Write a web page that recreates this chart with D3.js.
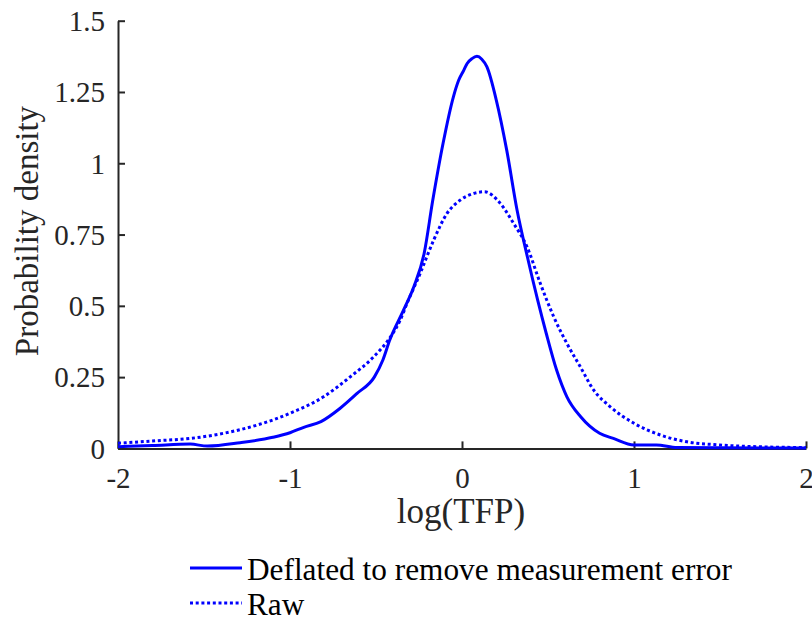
<!DOCTYPE html>
<html>
<head>
<meta charset="utf-8">
<script src="https://cdn.jsdelivr.net/npm/d3@7"></script>
<style>
  body { margin: 0; background: #fff; }
  text { font-family: "Liberation Serif", "Times New Roman", serif; }
</style>
</head>
<body>
<svg width="812" height="621"></svg>
<script>
// density estimates
var deflatedX = [-2, -1.8, -1.58, -1.48, -1.29, -1.1, -1, -0.92, -0.82, -0.71, -0.61, -0.51, -0.46, -0.42, -0.34, -0.28, -0.22, -0.17, -0.11, -0.05, -0.02, 0.01, 0.03, 0.058, 0.087, 0.115, 0.145, 0.2, 0.26, 0.32, 0.38, 0.44, 0.49, 0.55, 0.61, 0.69, 0.8, 0.88, 1.0, 1.13, 1.25, 1.5, 2.0],
  deflatedY = [0.006, 0.01, 0.015, 0.008, 0.02, 0.039, 0.055, 0.074, 0.094, 0.14, 0.193, 0.25, 0.31, 0.38, 0.485, 0.567, 0.684, 0.87, 1.07, 1.233, 1.29, 1.326, 1.35, 1.367, 1.375, 1.365, 1.338, 1.22, 1.046, 0.836, 0.672, 0.52, 0.403, 0.275, 0.181, 0.111, 0.053, 0.035, 0.012, 0.012, 0.003, 0.002, 0.001];

var rawX = [-2, -1.77, -1.58, -1.386, -1.19, -1, -0.805, -0.65, -0.514, -0.417, -0.359, -0.32, -0.243, -0.165, -0.087, -0.01, 0.067, 0.13, 0.223, 0.3, 0.378, 0.455, 0.533, 0.61, 0.688, 0.765, 0.862, 1.0, 1.153, 1.308, 1.5, 1.77, 2],
  rawY = [0.018, 0.027, 0.035, 0.053, 0.082, 0.123, 0.181, 0.251, 0.321, 0.39, 0.45, 0.508, 0.614, 0.73, 0.824, 0.871, 0.894, 0.9, 0.859, 0.789, 0.707, 0.579, 0.462, 0.368, 0.286, 0.205, 0.146, 0.088, 0.047, 0.023, 0.012, 0.005, 0.003];

var xTicks = [-2, -1, 0, 1, 2],
  xTickLabels = ["-2", "-1", "0", "1", "2"],
  yTicks = [0, 0.25, 0.5, 0.75, 1, 1.25, 1.5],
  yTickLabels = ["0", "0.25", "0.5", "0.75", "1", "1.25", "1.5"];

var seriesNames = ["Deflated to remove measurement error", "Raw"];

function draw() {
  var svg = d3.select("svg"),
    axisColor = "#262626",
    plot = {left: 118, right: 806, top: 20.7, bottom: 448.4};

  var x = d3.scaleLinear().domain([-2, 2]).range([plot.left, plot.right]),
    y = d3.scaleLinear().domain([0, 1.5]).range([plot.bottom, plot.top]);

  // axes: MATLAB style, ticks pointing inward
  var xAxis = svg.append("g")
    .attr("transform", "translate(0," + plot.bottom + ")")
    .call(d3.axisBottom(x).tickValues(xTicks)
      .tickFormat(function(d, i) { return xTickLabels[i]; })
      .tickSizeInner(-7).tickSizeOuter(0));

  var yAxis = svg.append("g")
    .attr("transform", "translate(" + plot.left + ",0)")
    .call(d3.axisLeft(y).tickValues(yTicks)
      .tickFormat(function(d, i) { return yTickLabels[i]; })
      .tickSizeInner(-7).tickSizeOuter(0));

  [xAxis, yAxis].forEach(function(a) {
    a.select(".domain").attr("stroke", axisColor).attr("stroke-width", 2);
    a.selectAll(".tick line").attr("stroke", axisColor).attr("stroke-width", 2);
    a.selectAll(".tick text")
      .attr("fill", axisColor)
      .style("font-family", "'Liberation Serif', serif")
      .style("font-size", "29px");
  });
  xAxis.selectAll(".tick text").attr("y", 19).attr("dy", "0.71em");
  yAxis.selectAll(".tick text").attr("x", -13).attr("dy", "0.34em");

  var line = d3.line()
    .x(function(d) { return x(d[0]); })
    .y(function(d) { return y(d[1]); })
    .curve(d3.curveMonotoneX);

  svg.append("path")
    .datum(d3.zip(rawX, rawY))
    .attr("fill", "none")
    .attr("stroke", "#0000ff")
    .attr("stroke-width", 3)
    .attr("stroke-dasharray", "3,2.7")
    .attr("d", line);

  svg.append("path")
    .datum(d3.zip(deflatedX, deflatedY))
    .attr("fill", "none")
    .attr("stroke", "#0000ff")
    .attr("stroke-width", 3)
    .attr("d", line);

  // axis labels
  svg.append("text")
    .attr("x", 461)
    .attr("y", 523)
    .attr("text-anchor", "middle")
    .style("font-size", "35px")
    .attr("fill", axisColor)
    .text("log(TFP)");

  svg.append("text")
    .attr("transform", "translate(38,231) rotate(-90)")
    .attr("text-anchor", "middle")
    .style("font-size", "33px")
    .attr("fill", axisColor)
    .text("Probability density");

  // legend
  var rows = svg.append("g").selectAll("g")
    .data(seriesNames)
    .enter().append("g")
      .attr("transform", function(d, i) { return "translate(0," + (568 + i * 35) + ")"; });

  rows.append("line")
    .attr("x1", 190).attr("x2", 242)
    .attr("stroke", "#0000ff")
    .attr("stroke-width", 3)
    .attr("stroke-dasharray", function(d, i) { return i == 1 ? "3,2.7" : null; });

  rows.append("text")
    .attr("x", 247)
    .attr("y", 12)
    .style("font-size", "31.3px")
    .attr("fill", "#000")
    .text(function(d) { return d; });
}

draw();
</script>
</body>
</html>
